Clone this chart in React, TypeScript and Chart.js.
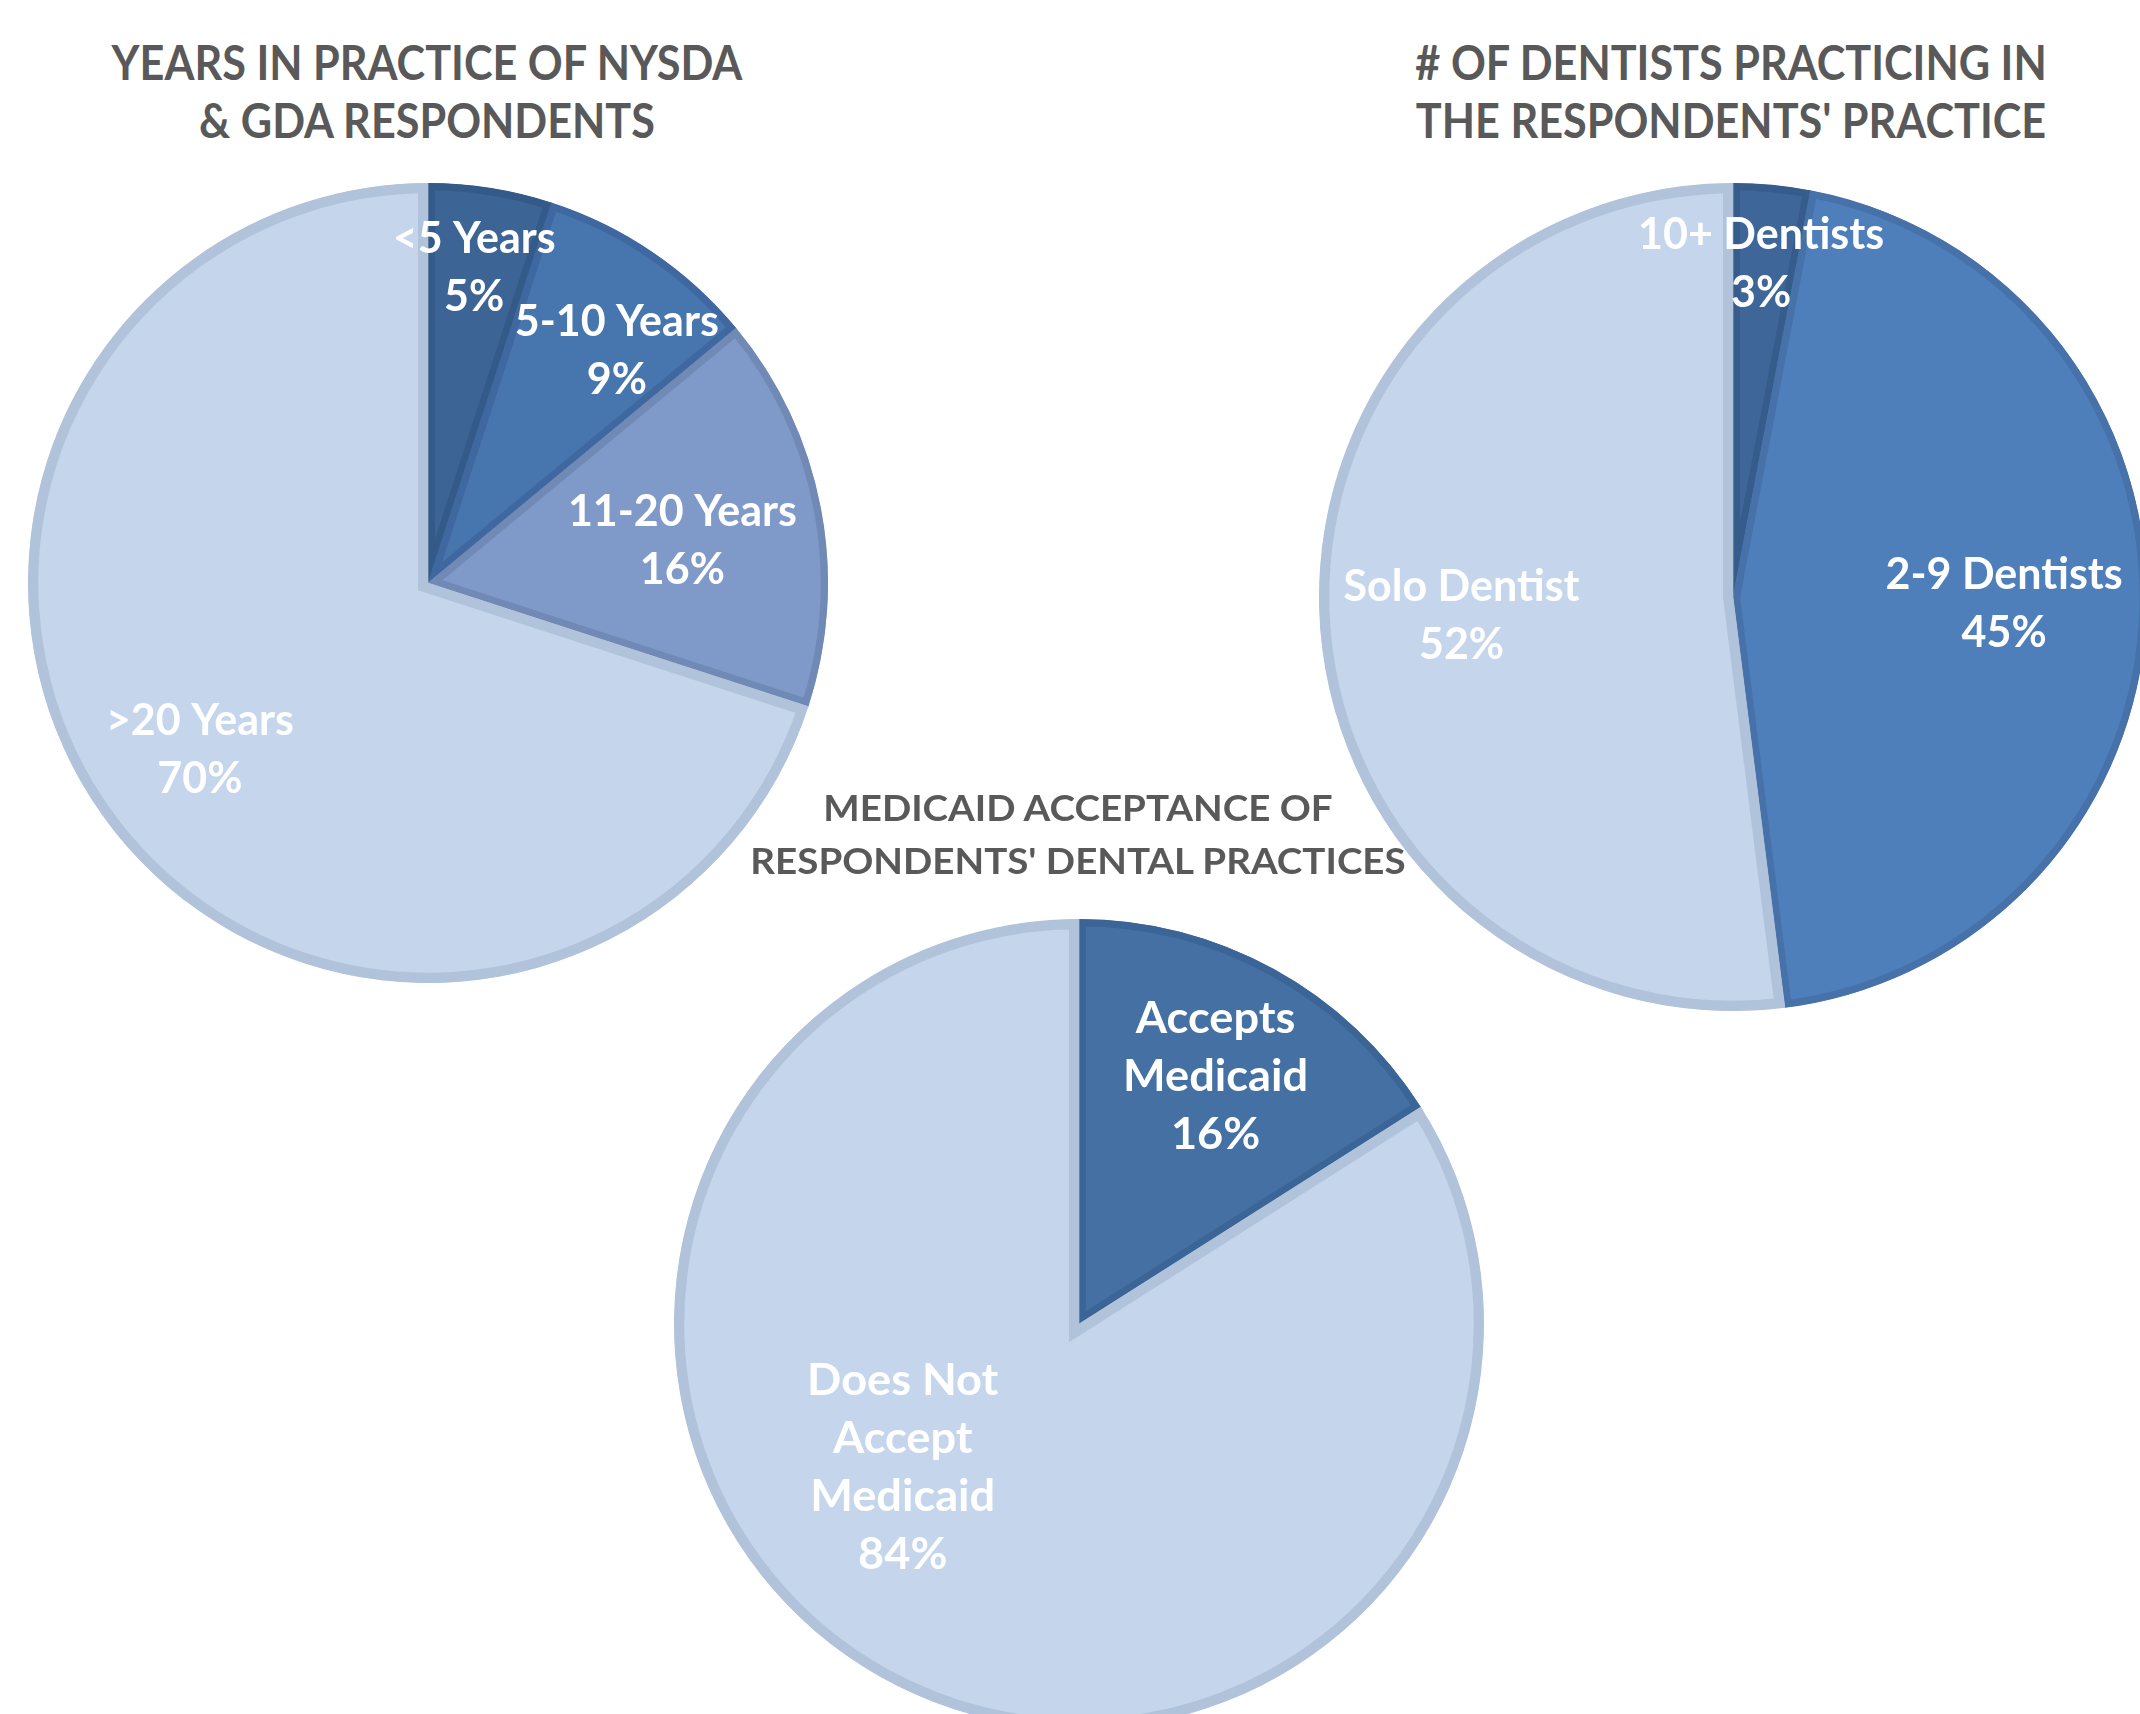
import React, { useEffect, useRef } from "react";
import { Chart, registerables } from "chart.js";

Chart.register(...registerables);

// ---- Data ----
const yearsTitle = ["YEARS IN PRACTICE OF NYSDA", "& GDA RESPONDENTS"];
const yearsCategories = [["<5 Years"], ["5-10 Years"], ["11-20 Years"], [">20 Years"]];
const yearsValues = [5, 9, 16, 70];

const dentistsTitle = ["# OF DENTISTS PRACTICING IN", "THE RESPONDENTS' PRACTICE"];
const dentistsCategories = [["10+ Dentists"], ["2-9 Dentists"], ["Solo Dentist"]];
const dentistsValues = [3, 45, 52];

const medicaidTitle = ["MEDICAID ACCEPTANCE OF", "RESPONDENTS' DENTAL PRACTICES"];
const medicaidCategories = [["Accepts", "Medicaid"], ["Does Not", "Accept", "Medicaid"]];
const medicaidValues = [16, 84];

// ---- Styles ----
const LIGHT = "#C5D6EC";
const LIGHT_B = "#B1C3DB";

const sliceLabelPlugin = {
  id: "sliceLabels",
  afterDatasetsDraw(chart: any, _args: any, opts: any) {
    const meta = chart.getDatasetMeta(0);
    const ds = chart.data.datasets[0];
    const ctx = chart.ctx;
    ctx.save();
    ctx.font = `bold ${opts.size}px Lato, "Open Sans", sans-serif`;
    ctx.fillStyle = opts.color;
    ctx.textAlign = "center";
    ctx.textBaseline = "alphabetic";
    meta.data.forEach((arc: any, i: number) => {
      const p = arc.getProps(["x", "y", "startAngle", "endAngle", "outerRadius"], true);
      const mid = (p.startAngle + p.endAngle) / 2 + ((opts.angleShift[i] || 0) * Math.PI) / 180;
      const d = p.outerRadius * opts.radiusFraction[i];
      const cx = p.x + Math.cos(mid) * d;
      const cy = p.y + Math.sin(mid) * d;
      const lbl = chart.data.labels[i];
      const lines = [...(Array.isArray(lbl) ? lbl : [lbl]), ds.data[i] + "%"];
      const n = lines.length;
      lines.forEach((t: string, k: number) => {
        const yc = cy + (k - (n - 1) / 2) * opts.lineHeight;
        ctx.save();
        ctx.translate(cx, yc + opts.size * 0.36);
        ctx.scale(opts.scaleX, 1);
        ctx.fillText(t, 0, 0);
        ctx.restore();
      });
    });
    ctx.restore();
  },
};

type PieProps = {
  left: number;
  top: number;
  size: number;
  radius: number;
  labels: string[][];
  values: number[];
  colors: string[];
  borders: string[];
  borderWidths: number[];
  radiusFraction: number[];
  angleShift: number[];
  scaleX: number;
};

function Pie(props: PieProps) {
  const ref = useRef<HTMLCanvasElement | null>(null);
  useEffect(() => {
    if (!ref.current) return;
    const chart = new Chart(ref.current, {
      type: "pie",
      data: {
        labels: props.labels,
        datasets: [
          {
            data: props.values,
            backgroundColor: props.colors,
            borderColor: props.borders,
            borderWidth: props.borderWidths,
            borderAlign: "inner",
            borderJoinStyle: "miter",
            hoverOffset: 0,
            radius: props.radius,
          } as any,
        ],
      },
      options: {
        animation: false,
        responsive: false,
        maintainAspectRatio: false,
        devicePixelRatio: 1,
        layout: { padding: 0 },
        events: [],
        plugins: {
          legend: { display: false },
          tooltip: { enabled: false },
          sliceLabels: {
            size: 43,
            lineHeight: 58,
            color: "#FFFFFF",
            radiusFraction: props.radiusFraction,
            angleShift: props.angleShift,
            scaleX: props.scaleX,
          },
        } as any,
      },
      plugins: [sliceLabelPlugin],
    });
    return () => chart.destroy();
  }, []);
  return (
    <canvas
      ref={ref}
      width={props.size}
      height={props.size}
      style={{ position: "absolute", left: props.left, top: props.top, width: props.size, height: props.size }}
    />
  );
}

function Title(p: { lines: string[]; cx: number; top: number; size: number; lh: number; scaleX: number }) {
  return (
    <div
      style={{
        position: "absolute",
        left: p.cx - 500,
        top: p.top,
        width: 1000,
        textAlign: "center",
        fontFamily: 'Lato, "Open Sans", sans-serif',
        fontWeight: 700,
        fontSize: p.size,
        lineHeight: p.lh + "px",
        color: "#595959",
        whiteSpace: "pre",
        transform: `scaleX(${p.scaleX})`,
      }}
    >
      {p.lines.map((l, i) => (
        <div key={i}>{l}</div>
      ))}
    </div>
  );
}

export default function App() {
  return (
    <div
      style={{
        position: "absolute",
        left: 0,
        top: 0,
        width: 2140,
        height: 1714,
        overflow: "hidden",
        background: "#FFFFFF",
      }}
    >
      <Pie
        left={28}
        top={183}
        size={800}
        radius={400}
        labels={yearsCategories}
        values={yearsValues}
        colors={["#3C6494", "#4776AF", "#7F9AC8", LIGHT]}
        borders={["#335A88", "#3F68A0", "#7089B5", LIGHT_B]}
        borderWidths={[7, 7, 7, 10]}
        radiusFraction={[0.8, 0.75, 0.645, 0.705]}
        angleShift={[-0.7, 4.8, 1.2, 0]}
        scaleX={1}
      />
      <Pie
        left={1319}
        top={183}
        size={828}
        radius={414}
        labels={dentistsCategories}
        values={dentistsValues}
        colors={["#3E6699", "#4E7FBB", LIGHT]}
        borders={["#365C8C", "#4671A9", LIGHT_B]}
        borderWidths={[7, 7, 10]}
        radiusFraction={[0.81, 0.655, 0.657]}
        angleShift={[-0.6, -0.7, 0]}
        scaleX={1}
      />
      <Pie
        left={674}
        top={919}
        size={810}
        radius={405}
        labels={medicaidCategories}
        values={medicaidValues}
        colors={["#4470A4", LIGHT]}
        borders={["#3B6497", LIGHT_B]}
        borderWidths={[7, 10]}
        radiusFraction={[0.7, 0.56]}
        angleShift={[0, 22.2]}
        scaleX={1.05}
      />
      <Title lines={yearsTitle} cx={427} top={33} size={48} lh={58} scaleX={0.9} />
      <Title lines={dentistsTitle} cx={1731} top={33} size={48} lh={58} scaleX={0.9} />
      <Title lines={medicaidTitle} cx={1078} top={781} size={36} lh={53} scaleX={1.07} />
    </div>
  );
}
